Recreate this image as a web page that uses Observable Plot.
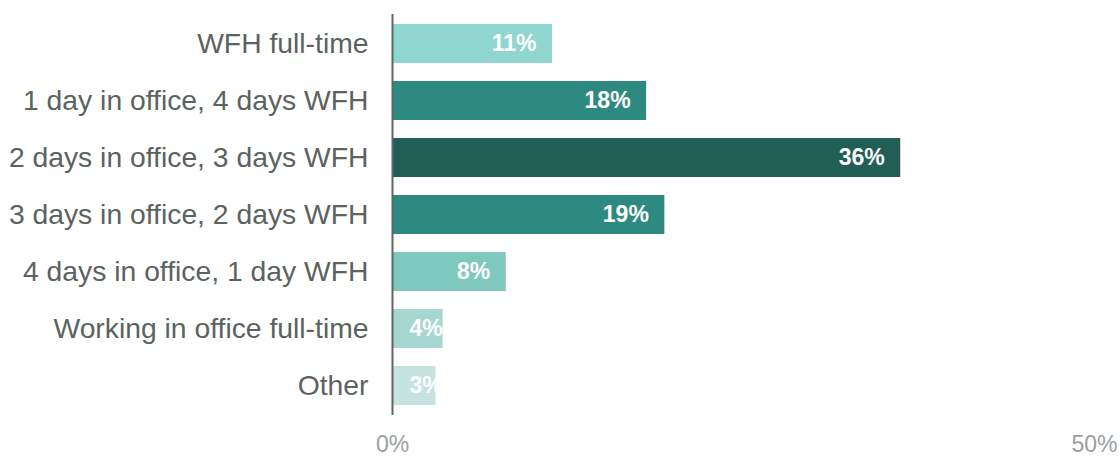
<!DOCTYPE html>
<html>
<head>
<meta charset="utf-8">
<script src="https://cdn.jsdelivr.net/npm/d3@7"></script>
<script src="https://cdn.jsdelivr.net/npm/@observablehq/plot@0.6"></script>
<style>
  html, body { margin: 0; padding: 0; background: #fff; }
  #chart { width: 1120px; height: 456px; }
</style>
</head>
<body>
<div id="chart"></div>
<script>
const categories = [
  "WFH full-time",
  "1 day in office, 4 days WFH",
  "2 days in office, 3 days WFH",
  "3 days in office, 2 days WFH",
  "4 days in office, 1 day WFH",
  "Working in office full-time",
  "Other"
];
const values = [11.4, 18.1, 36.2, 19.4, 8.1, 3.6, 3.1];
const labels = ["11%", "18%", "36%", "19%", "8%", "4%", "3%"];
const colors = ["#8ed6cf", "#2e8a80", "#205e56", "#2e8a80", "#7fc8bd", "#a7d7d1", "#c5e3df"];
const xTicks = [0, 50];

const data = categories.map((c, i) => ({cat: c, value: values[i], label: labels[i], color: colors[i]}));
const big = data.filter(d => d.value >= 5);
const small = data.filter(d => d.value < 5);

const font = "'Liberation Sans', Arial, sans-serif";

const chart = Plot.plot({
  width: 1120,
  height: 456,
  marginLeft: 392,
  marginRight: 26,
  marginTop: 14,
  marginBottom: 41,
  style: {fontFamily: font, background: "#fff", overflow: "visible"},
  x: {domain: [0, 50], axis: null},
  y: {domain: categories, paddingInner: 0.32, paddingOuter: 0.16, axis: null},
  marks: [
    Plot.barX(data, {y: "cat", x: "value", fill: "color"}),
    Plot.text(big, {y: "cat", x: "value", text: "label", textAnchor: "end", dx: -16, fill: "#fff", fontWeight: "bold", fontSize: 23, fontFamily: font}),
    Plot.text(small, {y: "cat", x: 0, text: "label", textAnchor: "start", dx: 17, fill: "#fff", fontWeight: "bold", fontSize: 23, fontFamily: font}),
    Plot.ruleX([0], {stroke: "#5f6663", strokeWidth: 2}),
    Plot.axisY({tickSize: 0, tickPadding: 24, fontSize: 28.3, color: "#5b6360", fontFamily: font, label: null}),
    Plot.axisX(xTicks, {tickSize: 0, tickPadding: 20, fontSize: 23, color: "#9aa0a0", tickFormat: d => d + "%", fontFamily: font, label: null})
  ]
});
document.getElementById("chart").appendChild(chart);
</script>
</body>
</html>
